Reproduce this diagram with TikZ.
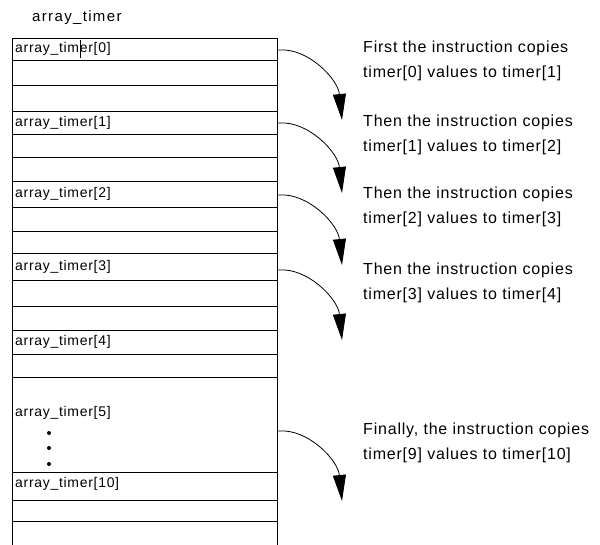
\documentclass[tikz,border=0pt]{standalone}
\usepackage{fontspec}
\setmainfont{Liberation Sans}
\newfontfamily\cellfont[LetterSpace=5]{Liberation Sans}
\newfontfamily\titlefont[LetterSpace=9]{Liberation Sans}
\newfontfamily\notefont[LetterSpace=5]{Liberation Sans}
\usetikzlibrary{arrows.meta}

\begin{document}
\begin{tikzpicture}[x=1pt,y=-1pt,
    % a tömb sorainak vonalai
    cell line/.style={line width=0.9pt},
    % feliratok a cellákban
    cell label/.style={anchor=west, inner sep=0pt,
        font=\cellfont\fontsize{14}{15}\selectfont},
    % magyarázó szöveg jobb oldalon
    note/.style={anchor=west, align=left, inner sep=0pt,
        font=\notefont\fontsize{16}{24.5}\selectfont},
    % másolást jelző ívelt nyíl
    copy arrow/.style={-{Triangle[length=26pt,width=13pt]}, line width=0.8pt}
]
    \useasboundingbox (0,0) rectangle (600,545);

    % Cím
    \node[anchor=west, inner sep=0pt, font=\titlefont\fontsize{15}{17}\selectfont] (title) at (32,18) {array\_timer};

    % Sorok vízszintes vonalai és a két oldal
    \foreach \y in {38,60,85,111,134,157,181,207,231,253,280,306,330,354,377,472,500,521}
        \draw[cell line] (12,\y) -- (277,\y);
    \draw[cell line] (12,38) -- (12,545);
    \draw[cell line] (277,38) -- (277,545);

    % Cellák feliratai
    \node[cell label] (c0) at (15,49) {array\_timer[0]};
    \node[cell label] (c1) at (15,122.5) {array\_timer[1]};
    \node[cell label] (c2) at (15,194) {array\_timer[2]};
    \node[cell label] (c3) at (15,266.5) {array\_timer[3]};
    \node[cell label] (c4) at (15,342) {array\_timer[4]};
    \node[cell label] (c5) at (15,413) {array\_timer[5]};
    \node[cell label] (c10) at (15,484) {array\_timer[10]};

    % kurzor az első sorban
    \draw[line width=0.6pt] (80,40) -- (80,58);

    % Pontok a kihagyott elemek helyén
    \foreach \y in {433,448,464}
        \fill (49,\y) circle (2);

    % Nyilak: a sor jobb széléről lefelé
    \foreach \y [count=\i] in {50,123,195,270,431} {
        \coordinate (from\i) at (277,\y);
        \coordinate (to\i) at (342,\y+70);
        \draw[copy arrow] (from\i) -- ++(8,0) .. controls +(27,2) and +(-4,-40) .. (to\i);
    }

    % Magyarázatok
    \node[note] (n0) at (363,61) {First the instruction copies\\timer[0] values to timer[1]};
    \node[note] (n1) at (363,135) {Then the instruction copies\\timer[1] values to timer[2]};
    \node[note] (n2) at (363,207) {Then the instruction copies\\timer[2] values to timer[3]};
    \node[note] (n3) at (363,283) {Then the instruction copies\\timer[3] values to timer[4]};
    \node[note] (n4) at (363,443) {Finally, the instruction copies\\timer[9] values to timer[10]};
\end{tikzpicture}
\end{document}
